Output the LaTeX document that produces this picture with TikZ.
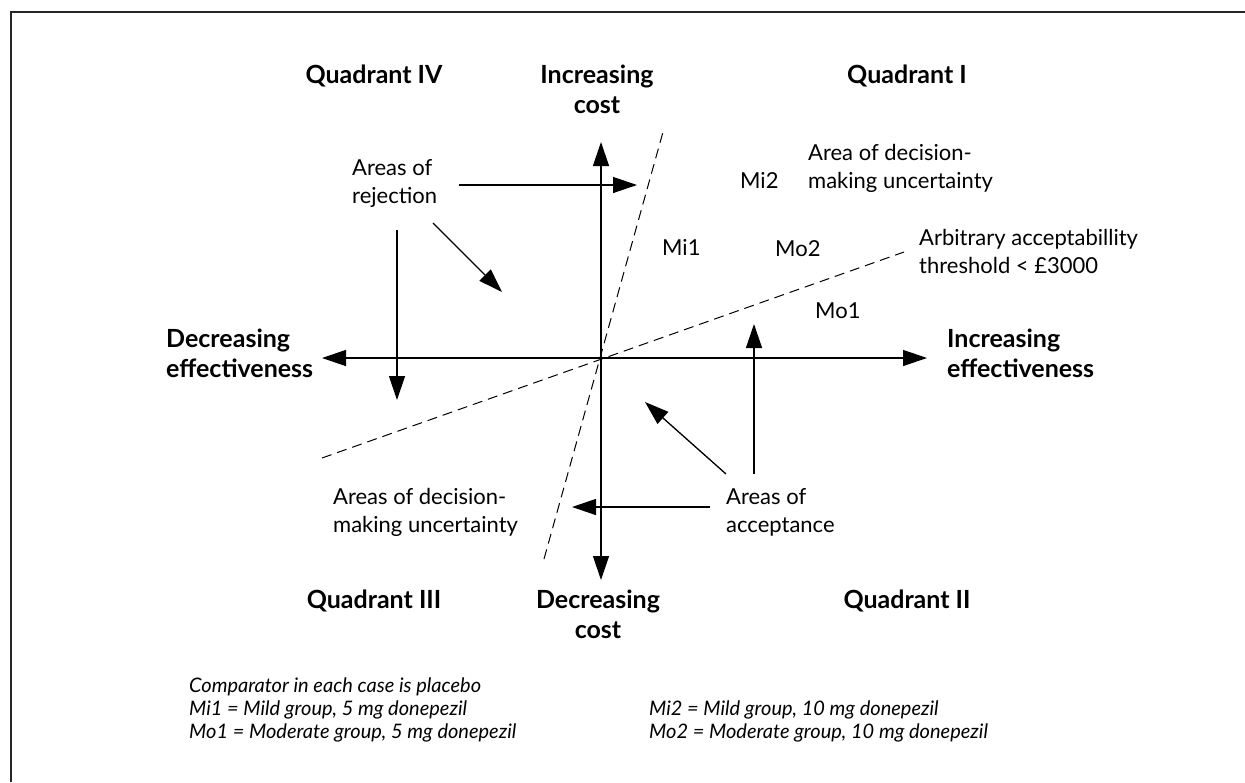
\documentclass[tikz,border=0pt]{standalone}
\usepackage{fontspec}
\setmainfont{Lato}
\usetikzlibrary{arrows.meta}
\begin{document}
\begin{tikzpicture}[x=1pt,y=-1pt,
  lab/.style={inner sep=0pt, anchor=base west, align=left, font=\fontsize{22}{28}\selectfont},
  blab/.style={inner sep=0pt, anchor=base, align=center, font=\bfseries\fontsize{25}{30}\selectfont},
  blabl/.style={blab, anchor=base west, align=left},
  foot/.style={inner sep=0pt, anchor=base west, align=left, font=\itshape\fontsize{20}{23}\selectfont},
  tip/.style={-{Triangle[length=24pt,width=16pt]}},
  axisline/.style={line width=1.3pt, {Triangle[length=24pt,width=16pt]}-{Triangle[length=24pt,width=16pt]}},
  ptr/.style={line width=1.3pt, tip},
  thr/.style={line width=1pt, dash pattern=on 10pt off 6pt},
  frame/.style={line width=2pt, draw=black!85},
]
\useasboundingbox (0,0) rectangle (1245,782);
% frame (top and left edges only)
\draw[frame] (11,782) -- (11,12) -- (1245,12);

% axes
\coordinate (O) at (601,358);
\coordinate (axT) at (601,142);
\coordinate (axB) at (601,580);
\coordinate (axL) at (322,358);
\coordinate (axR) at (927,358);
\draw[axisline] (axT) -- (axB);
\draw[axisline] (axL) -- (axR);

% threshold lines
\coordinate (s1) at (544,559);
\coordinate (s2) at (663,132);
\coordinate (t1) at (322,458);
\coordinate (t2) at (904,252);
\draw[thr] (s1) -- (s2);
\draw[thr] (t1) -- (t2);

% axis labels (base anchor = baseline of last line)
\node[blab] (qIV) at (374,83) {Quadrant IV};
\node[blab] (ic) at (597,113) {Increasing\\cost};
\node[blab] (qI) at (907,83) {Quadrant I};
\node[blab] (qIII) at (374,608) {Quadrant III};
\node[blab] (dc) at (598,638) {Decreasing\\cost};
\node[blab] (qII) at (907,608) {Quadrant II};
\node[blabl] (de) at (166,377) {Decreasing\\effectiveness};
\node[blabl] (ie) at (947,377) {Increasing\\effectiveness};

% region labels
\node[lab] (rej) at (352,203) {Areas of\\rejection};
\node[lab] (unc1) at (808,188) {Area of decision-\\making uncertainty};
\node[lab] (mi2) at (740,188) {Mi2};
\node[lab] (mi1) at (662,255) {Mi1};
\node[lab] (mo2) at (775,256) {Mo2};
\node[lab] (arb) at (919,273) {Arbitrary acceptabillity\\threshold < £3000};
\node[lab] (mo1) at (815,318) {Mo1};
\node[lab] (unc2) at (333,532) {Areas of decision-\\making uncertainty};
\node[lab] (acc) at (726,532) {Areas of\\acceptance};

% rejection pointers
\coordinate (r1s) at (459,185);
\coordinate (r1e) at (637,185);
\coordinate (r2s) at (433,223);
\coordinate (r2e) at (502,292);
\coordinate (r3s) at (397,230);
\coordinate (r3e) at (397,400);
\draw[ptr] (r1s) -- (r1e);
\draw[ptr] (r2s) -- (r2e);
\draw[ptr] (r3s) -- (r3e);

% acceptance pointers
\coordinate (a1s) at (754,474);
\coordinate (a1e) at (754,324);
\coordinate (a2s) at (726,474);
\coordinate (a2e) at (645,402);
\coordinate (a3s) at (710,507);
\coordinate (a3e) at (572,507);
\draw[ptr] (a1s) -- (a1e);
\draw[ptr] (a2s) -- (a2e);
\draw[ptr] (a3s) -- (a3e);

% footnotes
\node[foot] (fl) at (189,738) {Comparator in each case is placebo\\Mi1 = Mild group, 5 mg donepezil\\Mo1 = Moderate group, 5 mg donepezil};
\node[foot] (fr) at (649,738) {Mi2 = Mild group, 10 mg donepezil\\Mo2 = Moderate group, 10 mg donepezil};
\end{tikzpicture}
\end{document}
